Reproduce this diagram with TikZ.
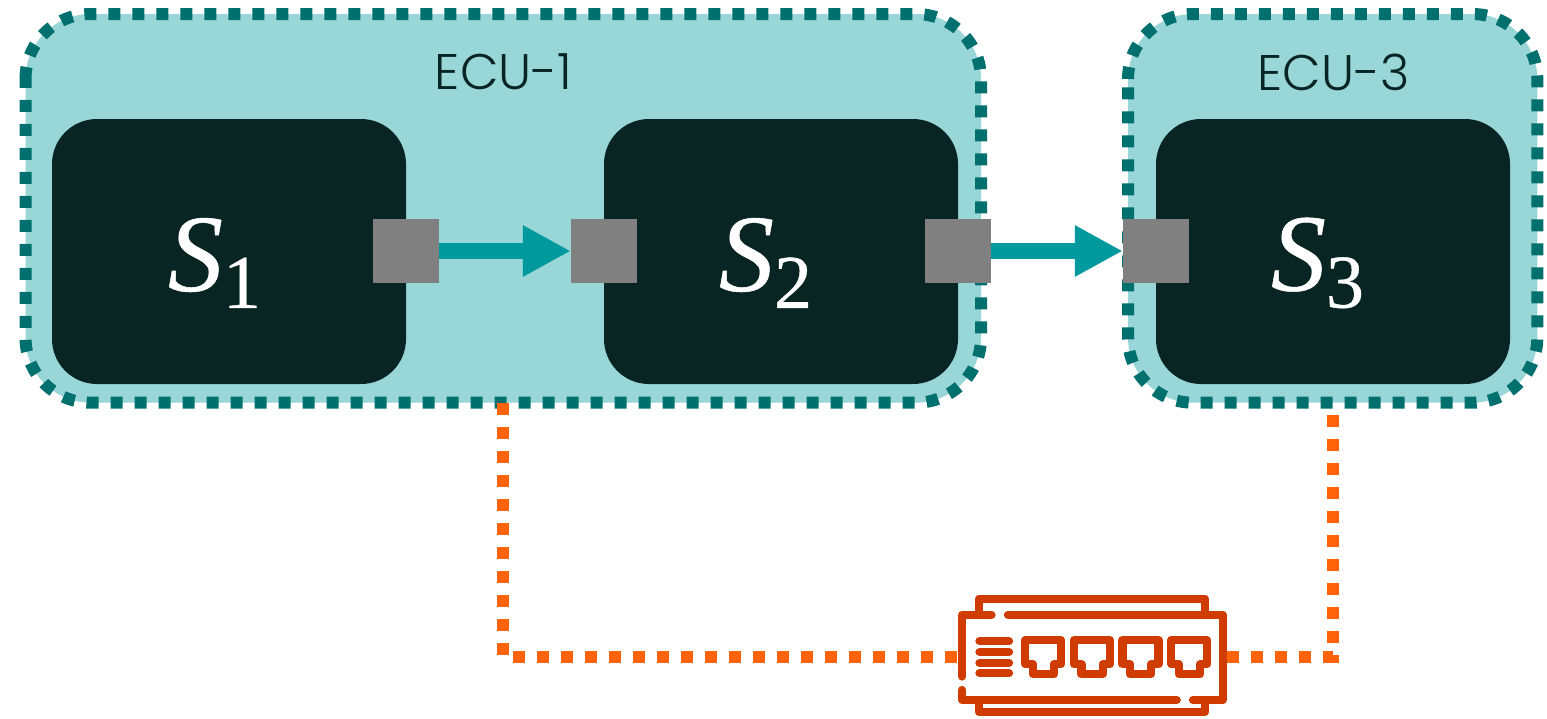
\documentclass[tikz,border=0pt]{standalone}
\usepackage{fontspec}
\setmainfont{Poppins Light}
\newfontfamily\mathish[FakeBold=0.5]{Liberation Serif}
\usetikzlibrary{arrows.meta}
\definecolor{ecufill}{HTML}{99D6D7}
\definecolor{eculine}{HTML}{00706E}
\definecolor{dark}{HTML}{082524}
\definecolor{portgrey}{HTML}{808080}
\definecolor{flow}{HTML}{009A9E}
\definecolor{netline}{HTML}{FF6309}
\definecolor{swcol}{HTML}{D03C00}
\tikzset{
  ecubox/.style={fill=ecufill,rounded corners=65pt,inner sep=0pt,minimum height=388.7pt},
  ecuedge/.style={draw=eculine,line width=12pt,dash pattern=on 12pt off 12pt},
  svcbox/.style={fill=dark,rounded corners=45pt,inner sep=0pt,minimum width=354pt,minimum height=265pt,text=white},
  portbox/.style={fill=portgrey,inner sep=0pt,minimum width=66pt,minimum height=64pt},
  flowarrow/.style={draw=flow,line width=16pt,-{Triangle[length=48pt,width=48pt,fill=flow]}},
  netwire/.style={draw=netline,line width=12pt,dash pattern=on 12pt off 12pt},
  swline/.style={draw=swcol,line width=8.3pt,line cap=round,line join=round},
  ecutext/.style={text=dark,font=\fontsize{50}{50}\selectfont,inner sep=0pt},
  svctext/.style={font=\mathish\fontsize{110}{110}\selectfont,inner sep=0pt}
}
\newcommand{\svcname}[1]{{\itshape S}\raisebox{-17pt}{\fontsize{76}{76}\selectfont #1}}
\begin{document}
\begin{tikzpicture}[x=1pt,y=-1pt]
\useasboundingbox (0,0) rectangle (1547,718);
\node[inner sep=0pt,minimum width=268.7pt,minimum height=120pt] (sw) at (1092.35,657) {};
% ECU boxes
\node[ecubox,minimum width=955.5pt] (ecu1) at (503.25,208.35) {};
\node[ecubox,minimum width=409.3pt] (ecu3) at (1332.65,208.35) {};
\draw[ecuedge] (25.5,79) arc[start angle=180,end angle=270,radius=65] -- (916,14)
  arc[start angle=270,end angle=360,radius=65] -- (981,337.7)
  arc[start angle=0,end angle=90,radius=65] -- (90.5,402.7)
  arc[start angle=90,end angle=180,radius=65] -- cycle;
\draw[ecuedge] (1128,79) arc[start angle=180,end angle=270,radius=65] -- (1472.3,14)
  arc[start angle=270,end angle=360,radius=65] -- (1537.3,337.7)
  arc[start angle=0,end angle=90,radius=65] -- (1193,402.7)
  arc[start angle=90,end angle=180,radius=65] -- cycle;
\draw[netwire] (ecu1.south) |- (sw.west);
\draw[netwire] (sw.east) -| (ecu3.south);
\node[ecutext] (ecu1label) at (503.5,72) {ECU-1};
\node[ecutext] (ecu3label) at (1333.5,72) {ECU-3};
% services
\node[svcbox] (s1) at (229,251.5) {};
\node[svcbox] (s2) at (781,251.5) {};
\node[svcbox] (s3) at (1333,251.5) {};
\node[svctext,text=white] (s1label) at (214.5,263) {\svcname{1}};
\node[svctext,text=white] (s2label) at (765.5,263) {\svcname{2}};
\node[svctext,text=white] (s3label) at (1317.5,263) {\svcname{3}};
% ports
\node[portbox] (p1) at (406,251) {};
\node[portbox] (p2) at (604,251) {};
\node[portbox] (p3) at (958,251) {};
\node[portbox] (p4) at (1156,251) {};
\draw[flowarrow] (p1.east) -- (p2.west);
\draw[flowarrow] (p3.east) -- (p4.west);
% switch icon
\draw[swline] (962,676.5) -- (962,614.7) -- (991.5,614.7);
\draw[swline] (1008,614.7) -- (1222.7,614.7) -- (1222.7,700) -- (1193,700);
\draw[swline] (962,690) -- (962,700) -- (1176.7,700);
\draw[swline] (979,614.7) -- (979,598.7) -- (1205,598.7) -- (1205,614.7);
\draw[swline] (979,700) -- (979,712) -- (1205,712) -- (1205,700);
\foreach \y in {641.3,652,662.7,673.3} \draw[swline] (979.5,\y) -- (1009,\y);
\foreach \dx in {0,48.67,97.33,146}
  \draw[swline,xshift=\dx pt] (1025.3,640.3) -- (1061.3,640.3) -- (1061.3,664.3) -- (1054,664.3) -- (1054,674.3) -- (1032.7,674.3) -- (1032.7,664.3) -- (1025.3,664.3) -- cycle;
\end{tikzpicture}
\end{document}
